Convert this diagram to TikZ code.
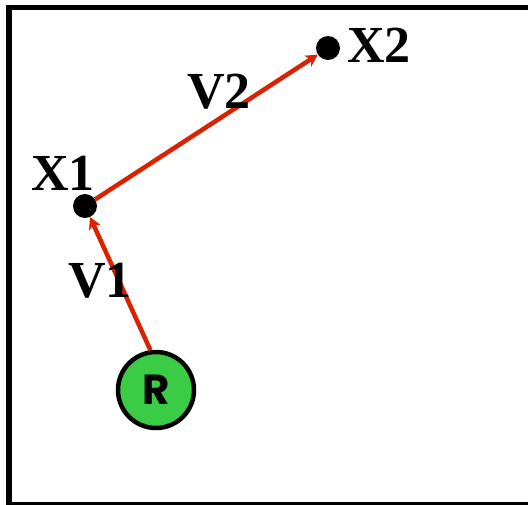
\documentclass[tikz,border=0pt]{standalone}
\usepackage{fontspec}
\setmainfont{Liberation Serif}
\newfontfamily\roundfont{Poppins}
\usetikzlibrary{arrows.meta}
\definecolor{vecred}{RGB}{218,33,0}
\definecolor{robotgreen}{RGB}{58,204,68}

\begin{document}
\begin{tikzpicture}[x=1pt,y=-1pt,
    dot/.style={circle,fill=black,inner sep=0pt,minimum size=24pt},
    robot/.style={circle,draw=black,line width=4.5pt,fill=robotgreen,inner sep=0pt,
                  minimum size=76pt,font=\roundfont\bfseries\fontsize{42}{42}\selectfont},
    vec/.style={-{Stealth[length=12pt,width=13pt]},draw=vecred,line width=4.5pt},
    lbl/.style={font=\bfseries\fontsize{52}{52}\selectfont},
]
\path[use as bounding box,clip] (0,0) rectangle (528,504);
% frame
\draw[line width=5.5pt] (9,7.5) rectangle (545,504.5);

% robot and points
\node[robot] (r)  at (156,390) {R};
\node[dot]   (x1) at (85,206)  {};
\node[dot]   (x2) at (328,48)  {};

% vectors
\draw[vec] (r.98) -- (x1);
\draw[vec] (x1) -- (x2);

% labels
\node[lbl] (lx1) at (63,173)  {X1};
\node[lbl] (lx2) at (379,45)  {X2};
\node[lbl] (lv1) at (100,281) {V1};
\node[lbl] (lv2) at (219,92)  {V2};
\end{tikzpicture}
\end{document}
